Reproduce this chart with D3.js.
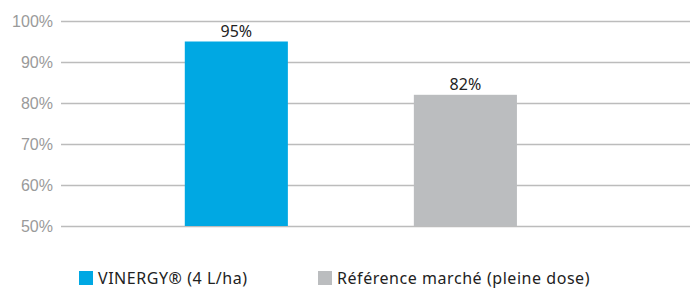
<!DOCTYPE html>
<head>
  <meta charset="utf-8">
  <script src="https://d3js.org/d3.v7.min.js"></script>
  <style>
    body { margin: 0; background: #fff; font-family: "Noto Sans", sans-serif; }
    .axis text { fill: #9a9a9a; font-size: 16px; }
    .label { fill: #222; font-size: 16px; text-anchor: middle; }
    .legend text { fill: #222; font-size: 16px; letter-spacing: 0.55px; }
  </style>
</head>
<body>
<script>
  var categories = ["VINERGY® (4 L/ha)", "Référence marché (pleine dose)"];
  var values = [0.95, 0.82];
  var tickValues = [0.5, 0.6, 0.7, 0.8, 0.9, 1.0];
  var colors = ["#00a8e3", "#bbbdbf"];

  var width = 690, height = 288;
  var margin = {top: 21, left: 61, right: 0, bottom: 62};

  var svg = d3.select("body").append("svg")
      .attr("width", width)
      .attr("height", height);

  var x = d3.scaleBand()
      .domain(categories)
      .range([margin.left, width - margin.right])
      .paddingInner(0.55)
      .paddingOuter(0.648)
      .align(0.417);

  var y = d3.scaleLinear()
      .domain([0.5, 1.0])
      .range([height - margin.bottom, margin.top]);

  var formatPercent = d3.format(".0%");

  // grid + tick labels
  var yAxis = d3.axisLeft(y)
      .tickValues(tickValues)
      .tickFormat(formatPercent)
      .tickSize(-(width - margin.left - margin.right))
      .tickPadding(8);

  var gy = svg.append("g")
      .attr("class", "axis")
      .attr("transform", "translate(" + margin.left + ",0)")
      .call(yAxis);
  gy.select(".domain").remove();
  gy.selectAll("line").attr("stroke", "#bcbcbc").attr("stroke-width", 1.5);

  svg.selectAll(".bar")
      .data(values)
      .enter().append("rect")
      .attr("class", "bar")
      .attr("x", (d, i) => x(categories[i]))
      .attr("width", x.bandwidth())
      .attr("y", d => y(d))
      .attr("height", d => y(0.5) - y(d))
      .attr("fill", (d, i) => colors[i]);

  svg.selectAll(".label")
      .data(values)
      .enter().append("text")
      .attr("class", "label")
      .attr("x", (d, i) => x(categories[i]) + x.bandwidth() / 2)
      .attr("y", d => y(d) - 5)
      .text(d => formatPercent(d));

  // legend
  var legendX = [79, 318];
  var legend = svg.append("g").attr("class", "legend");
  var items = legend.selectAll("g")
      .data(categories)
      .enter().append("g")
      .attr("transform", (d, i) => "translate(" + legendX[i] + ",271)");
  items.append("rect")
      .attr("width", 14)
      .attr("height", 14)
      .attr("fill", (d, i) => colors[i]);
  items.append("text")
      .attr("x", 19)
      .attr("y", 13)
      .text(d => d);
</script>
</body>
